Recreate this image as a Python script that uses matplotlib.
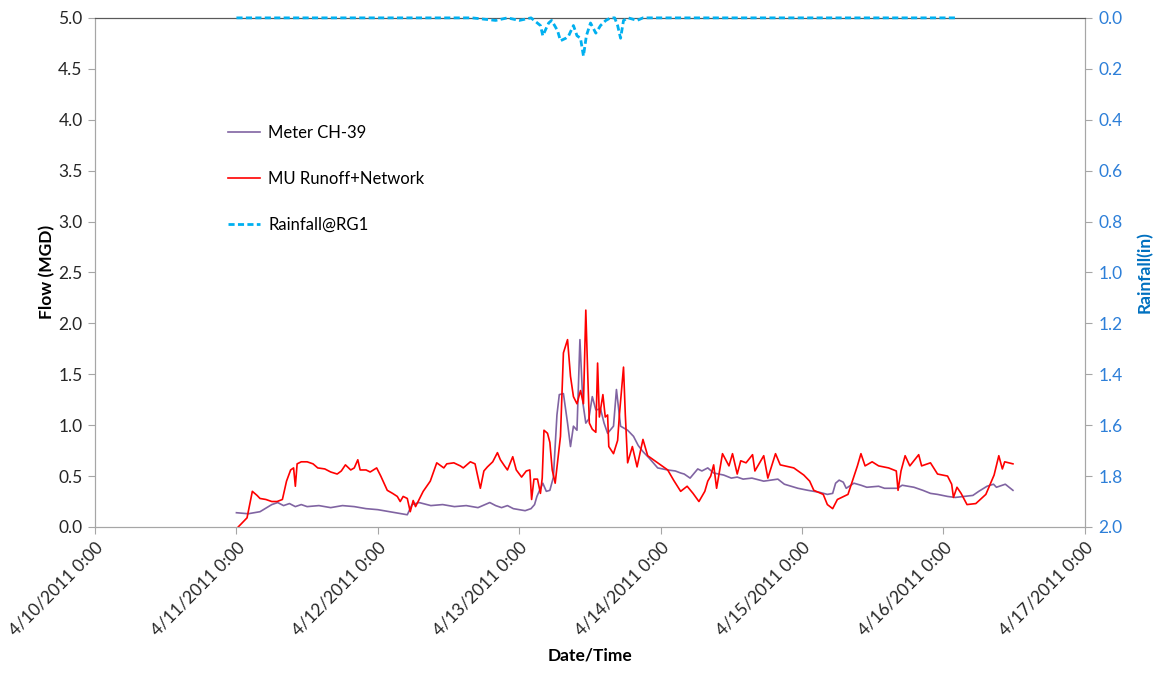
import numpy as np
import matplotlib
matplotlib.use("Agg")
import matplotlib.pyplot as plt
from datetime import datetime, timedelta

plt.rcParams['font.family'] = ['Lato', 'DejaVu Sans']

# hours after 4/11/2011 0:00
meter_hours = [0, 2, 4, 6, 7, 8, 9, 10, 11, 12, 14, 16, 18, 20, 22, 24, 26, 28, 29,
               29.8, 31, 33, 35, 37, 39, 41, 43, 44, 45, 46, 47, 48, 49, 50, 50.6, 51,
               52, 52.6, 53.2, 53.8, 54.4, 54.8, 55.5, 56.2, 56.7, 57.2, 57.8, 58.3,
               58.8, 59.3, 59.8, 60.4, 61, 61.8, 62.4, 63, 64, 64.5, 65.2, 66.4, 67.4,
               68.2, 69, 70, 71.5, 73.2, 74.5, 75.4, 76, 77, 78.3, 79, 80, 81, 82.7,
               84, 85, 86, 87.5, 89.5, 91.9, 93, 95.3, 97, 98, 99, 100.3, 101.2, 101.7,
               102.3, 103, 103.5, 104.8, 106, 107, 109, 110, 112.2, 113, 115, 116.5,
               117.8, 119, 120.7, 122, 123.5, 125, 126, 127.4, 128.5, 129, 130, 130.5,
               131.8]
meter_flow = [0.14, 0.13, 0.15, 0.22, 0.24, 0.21, 0.23, 0.20, 0.22, 0.20, 0.21, 0.19,
              0.21, 0.20, 0.18, 0.17, 0.15, 0.13, 0.12,
              0.22, 0.24, 0.21, 0.22, 0.20, 0.21, 0.19, 0.24, 0.21, 0.19, 0.21, 0.18,
              0.17, 0.16, 0.18, 0.22, 0.30,
              0.43, 0.35, 0.36, 0.49, 1.10, 1.30, 1.31, 1.02, 0.79, 0.99, 0.95, 1.84,
              1.22, 1.02, 1.06, 1.28, 1.15, 1.16, 1.02, 0.92, 0.99, 1.35, 0.99, 0.95,
              0.89, 0.80, 0.74, 0.68, 0.58, 0.56, 0.55, 0.53, 0.52, 0.48, 0.57, 0.55,
              0.58, 0.53, 0.51, 0.48, 0.49, 0.47, 0.48, 0.45, 0.47, 0.42, 0.38, 0.36,
              0.35, 0.34, 0.32, 0.33, 0.43, 0.46, 0.44, 0.38, 0.43, 0.41, 0.39, 0.40,
              0.38, 0.38, 0.41, 0.39, 0.36, 0.33, 0.32, 0.30, 0.29, 0.30, 0.31, 0.35,
              0.40, 0.42, 0.39, 0.41, 0.42, 0.36]

model_hours = [0.3, 1.8, 2.7, 3.5, 4, 5, 6, 6.9, 7.8, 8.5, 9.2, 9.7, 10, 10.3, 11, 12,
               13, 13.8, 15, 16, 17.1, 17.8, 18.5, 19.4, 20, 20.6, 21, 22, 22.7, 23.8,
               24.5, 25.6, 26.5, 27.3, 27.8, 28.3, 29, 29.5, 30, 30.4, 31.7, 32.9, 34,
               35.2, 35.7, 36.9, 38, 38.5, 39.7, 40.5, 41.4, 42, 42.6, 43.5, 44.3, 44.8,
               45.5, 46, 46.9, 47.5, 48.4, 49.2, 49.8, 50.1, 50.5, 51.1, 51.6, 51.9,
               52.2, 52.8, 53.2, 53.6, 54.1, 55, 55.5, 56.2, 56.7, 57.2, 57.8, 58.4,
               58.9, 59.3, 59.6, 59.9, 60.4, 61, 61.3, 61.6, 62.2, 62.6, 63, 63.2, 64,
               64.7, 65, 65.7, 66, 66.4, 67.2, 68, 69, 69.8, 71.5, 73.2, 74.2, 75.4,
               76.5, 77.5, 78.5, 79.5, 80, 80.5, 81, 81.5, 82.5, 83.6, 84.2, 85, 85.6,
               86.5, 87.6, 88, 89.5, 90.2, 91.5, 92.3, 94.6, 96.3, 97.3, 98, 99.6,
               100.3, 101.2, 102, 103.8, 104.6, 105.4, 106, 106.7, 107.9, 109, 110.7,
               112, 112.3, 112.8, 113.5, 114.3, 115.8, 116.3, 117.8, 119, 120.7, 121.4,
               121.7, 122.3, 123, 124, 125.5, 127.2, 128.6, 129.4, 130, 130.4, 131.8]
model_flow = [0.0, 0.09, 0.35, 0.31, 0.28, 0.27, 0.25, 0.25, 0.27, 0.45, 0.56, 0.58,
              0.40, 0.62, 0.64, 0.64, 0.62, 0.58, 0.57, 0.54, 0.52, 0.55, 0.61, 0.56,
              0.58, 0.66, 0.56, 0.56, 0.54, 0.58, 0.50, 0.36, 0.33, 0.30, 0.25, 0.30,
              0.28, 0.15, 0.26, 0.20, 0.35, 0.45, 0.63, 0.58, 0.62, 0.63, 0.60, 0.58,
              0.64, 0.62, 0.38, 0.55, 0.59, 0.64, 0.73, 0.66, 0.60, 0.56, 0.69, 0.56,
              0.49, 0.55, 0.56, 0.27, 0.47, 0.47, 0.33, 0.48, 0.95, 0.92, 0.83, 0.56,
              0.43, 0.89, 1.71, 1.84, 1.48, 1.28, 1.21, 1.34, 1.21, 2.13, 1.55, 1.02,
              0.96, 0.93, 1.61, 1.08, 1.30, 1.08, 1.10, 0.79, 0.72, 0.85, 1.10, 1.57,
              1.11, 0.63, 0.79, 0.59, 0.86, 0.70, 0.63, 0.56, 0.46, 0.35, 0.40, 0.33,
              0.25, 0.35, 0.45, 0.50, 0.61, 0.38, 0.72, 0.60, 0.72, 0.52, 0.65, 0.63,
              0.71, 0.55, 0.70, 0.48, 0.72, 0.61, 0.58, 0.51, 0.45, 0.36, 0.32, 0.22,
              0.18, 0.27, 0.32, 0.46, 0.60, 0.72, 0.60, 0.64, 0.60, 0.58, 0.55, 0.36,
              0.55, 0.70, 0.60, 0.71, 0.60, 0.63, 0.52, 0.50, 0.42, 0.29, 0.39, 0.33,
              0.22, 0.23, 0.32, 0.51, 0.70, 0.57, 0.64, 0.62]

rain_hours = [0, 40, 44, 46, 48, 50, 51.6, 52, 53, 53.5, 54.5, 55, 55.9, 56.4, 57.2,
              57.8, 58.4, 58.9, 59.4, 60.1, 61, 61.8, 62.7, 63.5, 64.2, 64.7, 65.2,
              65.7, 66.5, 68, 69, 122.5]
rain_in = [0, 0, 0.01, 0.0, 0.01, 0.0, 0.03, 0.07, 0.02, 0.01, 0.05, 0.09, 0.08, 0.07,
           0.03, 0.07, 0.08, 0.15, 0.07, 0.02, 0.06, 0.03, 0.01, 0.0, 0.0, 0.03, 0.08,
           0.01, 0.0, 0.01, 0.0, 0.0]

start = datetime(2011, 4, 11)
to_dt = lambda hrs: [start + timedelta(hours=h) for h in hrs]

fig = plt.figure(figsize=(11.59, 6.77), dpi=100)
ax = fig.add_axes([0.082, 0.2216, 0.854, 0.752])
ax2 = ax.twinx()

l1, = ax.plot(to_dt(meter_hours), meter_flow, color='#8064A2', lw=1.2, label='Meter CH-39')
l2, = ax.plot(to_dt(model_hours), model_flow, color='#FF0000', lw=1.2, label='MU Runoff+Network')
l3, = ax2.plot(to_dt(rain_hours), rain_in, color='#00B0F0', lw=2, ls=(0, (2.2, 1.2)),
               label='Rainfall@RG1', zorder=4, clip_on=False)

ax.set_xlim(datetime(2011, 4, 10), datetime(2011, 4, 17))
ax.set_ylim(0, 5)
ax.set_yticks(np.arange(0, 5.01, 0.5))
ax.yaxis.set_major_formatter(plt.FormatStrFormatter('%.1f'))
ax2.set_ylim(2.0, 0.0)
ax2.set_yticks(np.arange(0, 2.01, 0.2))
ax2.yaxis.set_major_formatter(plt.FormatStrFormatter('%.1f'))

days = [datetime(2011, 4, 10) + timedelta(days=i) for i in range(8)]
ax.set_xticks(days)
ax.set_xticklabels([f"{d.month}/{d.day}/{d.year} {d.hour}:{d.minute:02d}" for d in days],
                   rotation=45, ha='right', rotation_mode='anchor')

for a in (ax, ax2):
    for s in a.spines.values():
        s.set_color('#A6A6A6')
    a.spines['top'].set_color('#595959')
ax.tick_params(axis='both', direction='out', length=5, color='#A6A6A6', labelsize=12.5,
               labelcolor='#262626', pad=4)
ax2.tick_params(axis='y', direction='out', length=5, color='#A6A6A6', labelsize=12.5,
                labelcolor='#2D7FD8', pad=5)

ax.set_ylabel('Flow (MGD)', fontsize=12.5, fontweight='bold', labelpad=2)
ax2.set_ylabel('Rainfall(in)', fontsize=12.5, fontweight='bold', color='#0070C0', labelpad=10)
ax.set_xlabel('Date/Time', fontsize=12.5, fontweight='bold', labelpad=6)

fig.legend(handles=[l1, l2, l3], loc='upper left', bbox_to_anchor=(0.184, 0.838),
           frameon=False, fontsize=12, handlelength=1.9, handletextpad=0.5,
           labelspacing=1.8)

fig.savefig('out.png', dpi=100)
